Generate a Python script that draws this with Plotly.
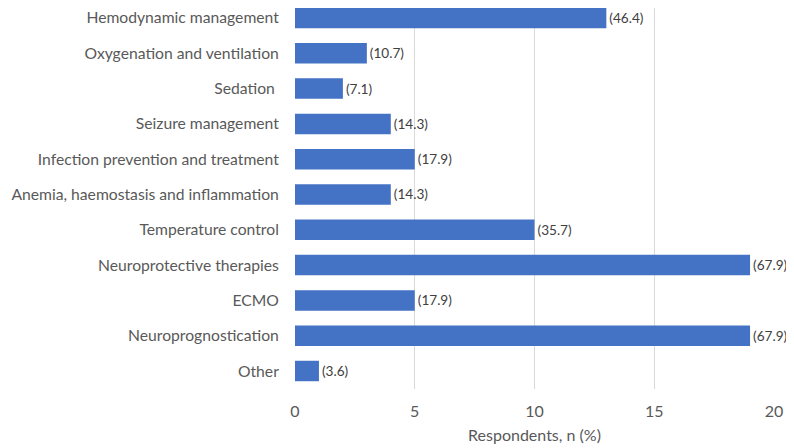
import plotly.graph_objects as go

# categories top to bottom, respondents (n) and share (%)
categories = [
    "Hemodynamic management",
    "Oxygenation and ventilation",
    "Sedation ",
    "Seizure management",
    "Infection prevention and treatment",
    "Anemia, haemostasis and inflammation",
    "Temperature control",
    "Neuroprotective therapies",
    "ECMO",
    "Neuroprognostication",
    "Other",
]
respondents = [13, 3, 2, 4, 5, 4, 10, 19, 5, 19, 1]
percent = [46.4, 10.7, 7.1, 14.3, 17.9, 14.3, 35.7, 67.9, 17.9, 67.9, 3.6]
x_ticks = [0, 5, 10, 15, 20]

font_name = "Lato"
grey = "#595959"

fig = go.Figure()
fig.add_trace(go.Bar(
    y=categories,
    x=respondents,
    orientation="h",
    marker=dict(color="#4472C4", line=dict(width=0)),
    text=["(%.1f)" % p for p in percent],
    textposition="outside",
    textfont=dict(family=font_name, size=13.6, color="#404040"),
    cliponaxis=False,
    showlegend=False,
))

# the page body adds an 8px offset, so the figure is 8px smaller than the window
fig.update_layout(
    width=786,
    height=440,
    margin=dict(l=287, r=20, t=0, b=59),
    paper_bgcolor="white",
    plot_bgcolor="white",
    bargap=0.42,
    font=dict(family=font_name, size=16, color=grey),
    xaxis=dict(
        range=[0, 20],
        tickvals=x_ticks,
        showgrid=True,
        gridcolor="#D9D9D9",
        gridwidth=1,
        zeroline=False,
        showline=False,
        ticks="outside",
        ticklen=8,
        tickcolor="rgba(0,0,0,0)",
        automargin=False,
        title=dict(text="Respondents, n (%)", standoff=10,
                   font=dict(family=font_name, size=16, color=grey)),
        tickfont=dict(family=font_name, size=16, color=grey),
    ),
    yaxis=dict(
        categoryorder="array",
        categoryarray=categories[::-1],
        range=[-0.51, 10.283],
        showgrid=False,
        showline=False,
        ticks="outside",
        ticklen=12,
        tickcolor="rgba(0,0,0,0)",
        automargin=False,
        tickfont=dict(family=font_name, size=15.7, color=grey),
    ),
)

fig.write_html("out.html")
